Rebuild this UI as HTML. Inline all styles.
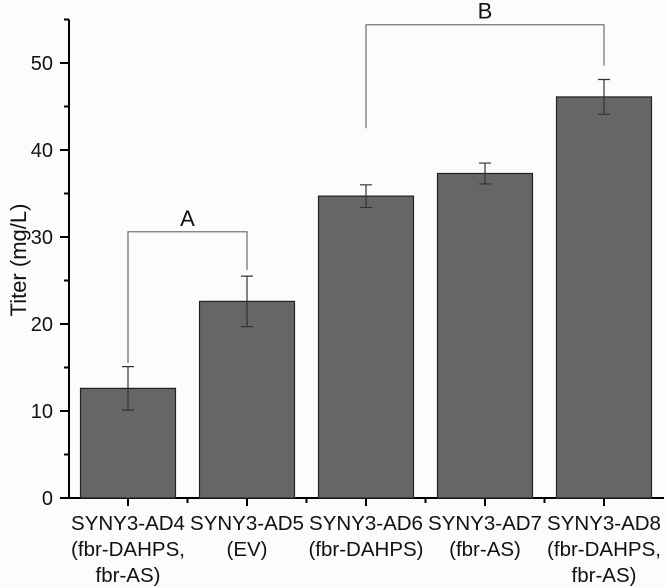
<!DOCTYPE html>
<html><head><meta charset="utf-8"><style>
html,body{margin:0;padding:0;background:#fcfcfc;}
svg{display:block;font-family:"Liberation Sans",Arial,sans-serif;}
</style></head><body>
<svg id="chart" width="666" height="587" viewBox="0 0 666 587">
<g id="plot"></g>
</svg>
<script>
const categories = ["SYNY3-AD4|(fbr-DAHPS,|fbr-AS)","SYNY3-AD5|(EV)","SYNY3-AD6|(fbr-DAHPS)","SYNY3-AD7|(fbr-AS)","SYNY3-AD8|(fbr-DAHPS,|fbr-AS)"];
const values = [12.6, 22.6, 34.7, 37.3, 46.1];
const errors = [2.5, 2.9, 1.3, 1.2, 2.0];
const yTicks = [0, 10, 20, 30, 40, 50];
const brackets = [
  {label:"A", from:0, to:1, level:30.6, leftEnd:15.5, rightEnd:26.2},
  {label:"B", from:2, to:4, level:54.4, leftEnd:42.5, rightEnd:49.7}
];
const NS="http://www.w3.org/2000/svg";
const g=document.getElementById('plot');
const x0=68.5, step=119, y0=498, ppu=8.7;
const xc=i=>x0+step*(i+0.5);
const y=v=>y0-v*ppu;
function mk(t,a,p){const e=document.createElementNS(NS,t);for(const k in a)e.setAttribute(k,a[k]);(p||g).appendChild(e);return e;}
let e=mk('line',{x1:69,y1:y(55),x2:69,y2:y0+1,stroke:'#000','stroke-width':2});


e=mk('line',{x1:68,y1:y0,x2:664,y2:y0,stroke:'#000','stroke-width':2});


yTicks.forEach(v=>{
  let t=mk('line',{x1:60,y1:y(v),x2:69,y2:y(v),stroke:'#000','stroke-width':2});
  
  
  let m=mk('line',{x1:64,y1:y(v+5),x2:69,y2:y(v+5),stroke:'#000','stroke-width':2});
  
  
  let l=mk('text',{x:53,y:y(v)+7,'text-anchor':'end','font-size':20,fill:'#111'});
  l.textContent=v;
  
  
});
e=mk('text',{x:0,y:0,transform:'translate(26,260) rotate(-90)','text-anchor':'middle','font-size':22,fill:'#111'});
e.textContent='Titer (mg/L)';


categories.forEach((c,i)=>{
  const cx=xc(i), v=values[i], er=errors[i];
  let b=mk('rect',{x:cx-47.5,y:y(v),width:95,height:y0-y(v),fill:'#666',stroke:'#222','stroke-width':1.2});
  
  
  let eb=mk('path',{d:`M${cx},${y(v+er)}V${y(v-er)}M${cx-6},${y(v+er)}H${cx+6}M${cx-6},${y(v-er)}H${cx+6}`,stroke:'#333','stroke-width':1.2,fill:'none'});
  
  
  let t=mk('line',{x1:cx,y1:y0,x2:cx,y2:y0+8,stroke:'#000','stroke-width':2});
  
  
  if(i>0){let s=mk('line',{x1:cx-step/2,y1:y0,x2:cx-step/2,y2:y0+5,stroke:'#000','stroke-width':2});
  
  }
  const lines=c.split('|');
  let tx=mk('text',{x:cx,y:530,'text-anchor':'middle','font-size':20.5,fill:'#111'});
  
  
  lines.forEach((s,j)=>{const ts=mk('tspan',{x:cx,dy:j?26:0},tx);ts.textContent=s;});
});
brackets.forEach(bk=>{
  const a=xc(bk.from), b=xc(bk.to);
  let p=mk('path',{d:`M${a},${y(bk.leftEnd)}V${y(bk.level)}H${b}V${y(bk.rightEnd)}`,stroke:'#777','stroke-width':1.3,fill:'none'});
  
  
  let l=mk('text',{x:(a+b)/2,y:y(bk.level)-6,'text-anchor':'middle','font-size':22,fill:'#111'});
  l.textContent=bk.label;
  
  
});
</script>
</body></html>
